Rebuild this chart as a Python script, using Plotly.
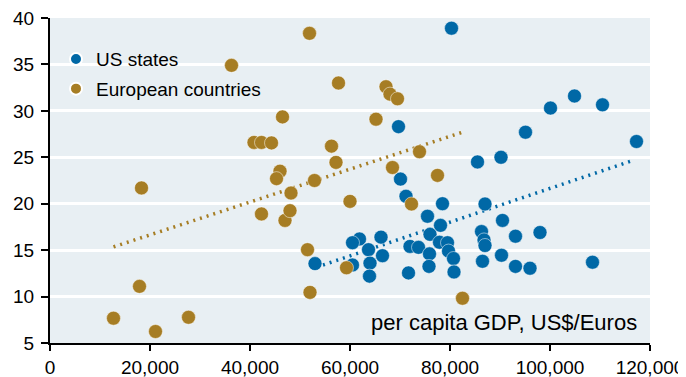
import plotly.graph_objects as go

# per capita GDP (US$/Euros) vs. rate
us_gdp = [80300, 69700, 100100, 104900, 110500, 95100, 117300, 85500, 90200, 70100,
          53000, 71200, 78500, 87000, 75500, 78100, 90500, 86300, 98000, 93100,
          86800, 87000, 76000, 61900, 60500, 66200, 63700, 66500, 64000, 63900,
          60500, 72000, 73700, 75900, 75800, 71700, 77900, 79500, 79700, 80700,
          80800, 86500, 90300, 93100, 96000, 108500]
us_rate = [38.9, 28.3, 30.3, 31.6, 30.65, 27.7, 26.7, 24.5, 25.0, 22.65,
           13.55, 20.8, 20.0, 19.97, 18.65, 17.67, 18.2, 17.0, 16.9, 16.5,
           16.1, 15.5, 16.7, 16.2, 15.8, 16.4, 15.05, 14.4, 13.6, 12.2,
           13.4, 15.4, 15.3, 14.6, 13.25, 12.55, 15.85, 15.8, 14.9, 14.1,
           12.65, 13.8, 14.45, 13.25, 13.05, 13.7]

eu_gdp = [36300, 51900, 57700, 46500, 40800, 42300, 44300, 56300, 57200, 46000,
          45300, 52900, 18300, 67200, 68000, 69500, 65200, 73900, 68500, 77500,
          42300, 47000, 48000, 48200, 51500, 52000, 17900, 12700, 21100, 27700,
          59300, 60000, 72300, 82500]
eu_rate = [34.9, 38.35, 33.0, 29.35, 26.6, 26.6, 26.55, 26.2, 24.45, 23.5,
           22.7, 22.5, 21.7, 32.6, 31.8, 31.3, 29.1, 25.6, 23.9, 23.05,
           18.9, 18.2, 19.25, 21.15, 15.05, 10.45, 11.1, 7.67, 6.24, 7.77,
           13.1, 20.25, 19.97, 9.82]

# linear trend end points
us_trend_x = [54600, 116800]
us_trend_y = [13.4, 24.7]
eu_trend_x = [12700, 82500]
eu_trend_y = [15.35, 27.7]

x_ticks = [0, 20000, 40000, 60000, 80000, 100000, 120000]
y_ticks = [5, 10, 15, 20, 25, 30, 35, 40]

blue = '#0068A6'
gold = '#A67D24'

fig = go.Figure()

fig.add_trace(go.Scatter(
    x=eu_trend_x, y=eu_trend_y, mode='lines',
    line=dict(color=gold, width=3.5, dash='2px,5px'),
    showlegend=False, hoverinfo='skip'
))
fig.add_trace(go.Scatter(
    x=us_trend_x, y=us_trend_y, mode='lines',
    line=dict(color=blue, width=3.5, dash='2px,5px'),
    showlegend=False, hoverinfo='skip'
))
fig.add_trace(go.Scatter(
    x=us_gdp, y=us_rate, mode='markers', name='US states', legendgroup='us',
    marker=dict(color=blue, size=14, line=dict(color='white', width=0.5))
))
fig.add_trace(go.Scatter(
    x=eu_gdp, y=eu_rate, mode='markers', name='European countries', legendgroup='eu',
    marker=dict(color=gold, size=14, line=dict(color='white', width=0.5))
))

fig.add_annotation(
    text='per capita GDP, US$/Euros', xref='paper', yref='paper',
    x=0.982, y=0.062, xanchor='right', yanchor='middle', showarrow=False,
    font=dict(size=22, color='black')
)

# the page body adds an 8px offset, so the figure is 8px smaller than the window
fig.update_layout(
    width=678,
    height=369,
    template='none',
    font=dict(family='Liberation Sans, Arial, sans-serif', size=19, color='black'),
    paper_bgcolor='white',
    plot_bgcolor='#E8EFF3',
    margin=dict(l=42, r=36, t=10, b=34),
    legend=dict(
        x=0.01, y=0.932, xanchor='left', yanchor='top',
        bgcolor='rgba(0,0,0,0)', font=dict(size=19),
        itemsizing='constant', tracegroupgap=2
    ),
    xaxis=dict(
        range=[0, 120000], tickvals=x_ticks, tickformat=',',
        showgrid=False, zeroline=False,
        showline=True, linecolor='black', linewidth=2,
        ticks='outside', ticklen=6, tickwidth=2, tickcolor='black'
    ),
    yaxis=dict(
        range=[5, 40], tickvals=y_ticks,
        showgrid=True, gridcolor='white', gridwidth=2.5, zeroline=False,
        showline=True, linecolor='black', linewidth=2,
        ticks='outside', ticklen=7, tickwidth=2, tickcolor='black',
        ticklabelstandoff=3, ticklabeloverflow='allow'
    ),
)

fig.write_html('out.html')
